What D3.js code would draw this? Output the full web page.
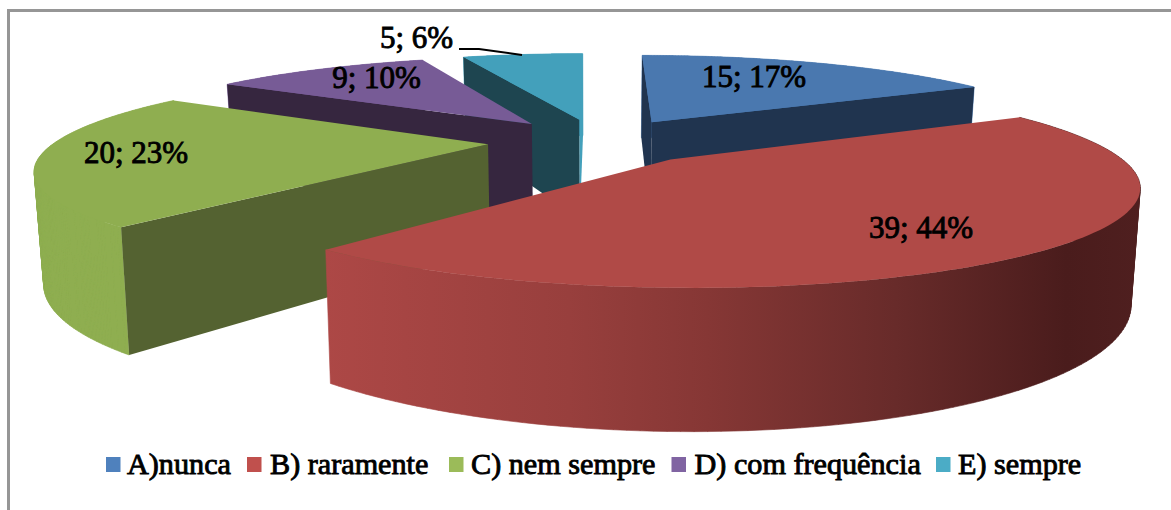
<!DOCTYPE html>
<html>
<head>
<meta charset="utf-8">
<style>
  html, body { margin: 0; padding: 0; background: #fff; }
  svg { display: block; }
  text { font-family: "Liberation Serif", serif; fill: #000; stroke: #000; stroke-width: 0.9px; }
</style>
<script src="https://cdn.jsdelivr.net/npm/d3@7/dist/d3.min.js"></script>
</head>
<body>
<svg id="chart" width="1171" height="510"></svg>
<script>
// Survey answers, one entry per category
const categories = ["A)nunca", "B) raramente", "C) nem sempre", "D) com frequência", "E) sempre"];
const values = [15, 39, 20, 9, 5];
const topColors = ["#4a78af", "#b04a47", "#8fae50", "#775b96", "#43a0bb"];
const cutColors = ["#20344f", "#4b1c1c", "#546231", "#36263f", "#1e4550"];
const swatchColors = ["#4f81bd", "#c0504d", "#9bbb59", "#8064a2", "#4bacc6"];

// Layout constants of the tilted pie
const cx = 598, cy = 141;
const radiusX = 432, radiusY = 89.5;
const perspective = 0.225;   // foreshortening along the depth axis
const explode = 0.255;       // slice offset from the centre, in radius units
const thickness = 105;       // wall height at unit scale
const bottomShrink = 0.983;  // lower face is slightly narrower than the upper one

const legendX = [106, 247, 449, 671.5, 936];
const legendTextX = [127, 270, 471, 694.5, 958];
const labelPos = [[754, 87], [921, 238], [136, 163], [376.5, 88], [416.5, 48]];

const svg = d3.select("#chart");
const scaleX = d3.scaleLinear().domain([-1, 1]).range([cx - radiusX, cx + radiusX]);
const scaleY = d3.scaleLinear().domain([-1, 1]).range([cy + radiusY, cy - radiusY]);

// Projects a point on the pie plane; lower = true gives the underside
function project(X, Z, lower) {
  const s = 1 / (1 + perspective * Z);
  const x = scaleX(X * s);
  const y = scaleY(Z * s);
  if (!lower) return [x, y];
  return [cx + (x - cx) * bottomShrink, y + thickness * s];
}

const total = d3.sum(values);
const pie = d3.pie().sort(null).value(d => d)(values);
const lineGen = d3.line();

const slices = pie.map((d, i) => {
  const mid = (d.startAngle + d.endAngle) / 2;
  const ox = explode * Math.sin(mid), oz = explode * Math.cos(mid);
  const rim = (a, lower) => project(ox + Math.sin(a), oz + Math.cos(a), lower);
  const apex = lower => project(ox, oz, lower);
  const angles = d3.range(0, 121).map(t => d.startAngle + (d.endAngle - d.startAngle) * t / 120);
  return { d, i, rim, apex, angles };
});

// Gradient of the long outer wall, dark towards the right
const defs = svg.append("defs");
const wallShade = defs.append("linearGradient")
  .attr("id", "wallShade").attr("gradientUnits", "userSpaceOnUse")
  .attr("x1", 324).attr("x2", 1140).attr("y1", 0).attr("y2", 0);
[[0, "#ad4846"], [0.3, "#983f3d"], [0.47, "#863735"], [0.7, "#682b2a"], [0.91, "#4a1c1c"], [1, "#4f1f1f"]]
  .forEach(([o, c]) => wallShade.append("stop").attr("offset", o).attr("stop-color", c));

// Signed area tells whether a cut face looks towards the viewer
const area = pts => d3.polygonArea(pts);

// Back slices first, so nearer ones paint over them
const order = [4, 3, 0, 2, 1];
const g = svg.append("g");
order.forEach(idx => {
  const s = slices[idx];
  const layer = g.append("g");
  const top = s.angles.map(a => s.rim(a, false));
  const low = s.angles.map(a => s.rim(a, true));

  // outer wall, built from equally wound quads so overlapping parts stay filled
  const quads = d3.range(top.length - 1).map(j => {
    const q = [top[j], top[j + 1], low[j + 1], low[j]];
    return lineGen(area(q) < 0 ? q.reverse() : q) + "Z";
  });
  const wallPaint = idx === 1 ? "url(#wallShade)" : topColors[idx];
  layer.append("path")
    .attr("d", quads.join(""))
    .attr("fill", wallPaint)
    .attr("stroke", wallPaint)
    .attr("stroke-width", 0.6);

  // cut faces along both slice edges
  const startFace = [s.rim(s.d.startAngle, false), s.apex(false), s.apex(true), s.rim(s.d.startAngle, true)];
  const endFace = [s.apex(false), s.rim(s.d.endAngle, false), s.rim(s.d.endAngle, true), s.apex(true)];
  if (area(startFace) < 0) {
    layer.append("path").attr("d", lineGen(startFace) + "Z").attr("fill", cutColors[idx]);
  }
  if (area(endFace) < 0) {
    const closing = s.d.endAngle >= 2 * Math.PI - 1e-6;
    layer.append("path").attr("d", lineGen(endFace) + "Z")
      .attr("fill", closing ? topColors[idx] : cutColors[idx]);
  }

  // upper face
  layer.append("path")
    .attr("d", lineGen([s.apex(false)].concat(top)) + "Z")
    .attr("fill", topColors[idx]);
});

// Frame
svg.append("path").attr("d", "M8.5,510V10.5H1171")
  .attr("fill", "none").attr("stroke", "#969696").attr("stroke-width", 3);

// Leader line of the smallest slice
svg.append("path").attr("d", lineGen([[459, 49], [479, 49], [522, 55]]))
  .attr("fill", "none").attr("stroke", "#000").attr("stroke-width", 2);

// Value labels
svg.append("g").selectAll("text").data(pie).join("text")
  .attr("x", (d, i) => labelPos[i][0])
  .attr("y", (d, i) => labelPos[i][1])
  .attr("text-anchor", "middle")
  .attr("font-size", 31)
  .text(d => `${d.value}; ${d3.format(".0f")(d.value / total * 100)}%`);

// Legend
const legend = svg.append("g");
legend.selectAll("rect").data(categories).join("rect")
  .attr("x", (d, i) => legendX[i]).attr("y", 457)
  .attr("width", 14.5).attr("height", 15)
  .attr("fill", (d, i) => swatchColors[i]);
legend.selectAll("text").data(categories).join("text")
  .attr("x", (d, i) => legendTextX[i]).attr("y", 474)
  .attr("font-size", 30.2)
  .text(d => d);
</script>
</body>
</html>
